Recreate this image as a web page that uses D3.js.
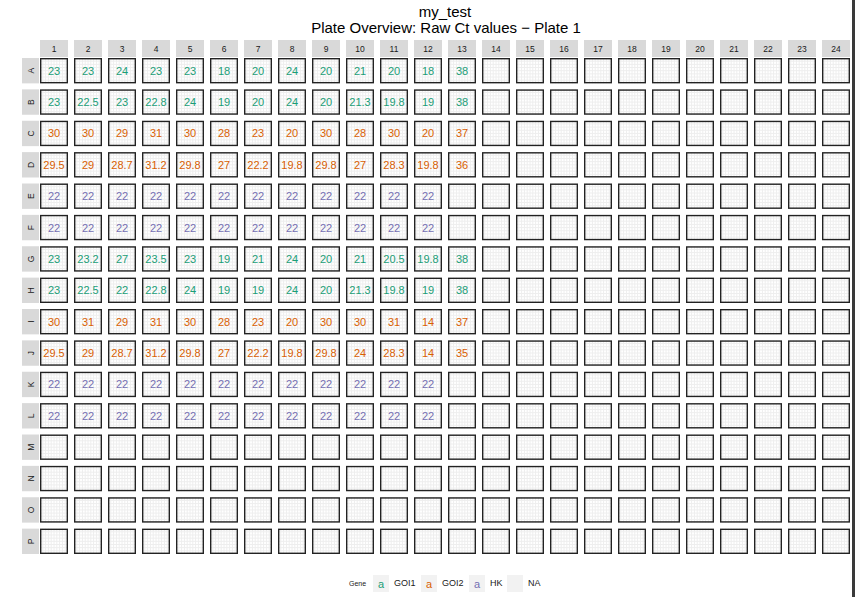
<!DOCTYPE html>
<html>
<head>
<meta charset="utf-8">
<script src="https://cdn.jsdelivr.net/npm/d3@7/dist/d3.min.js"></script>
<style>
  html, body { margin: 0; padding: 0; background: #fff; }
  svg { display: block; font-family: "Liberation Sans", Arial, sans-serif; }
</style>
</head>
<body>
<svg id="chart" width="855" height="597"></svg>
<script>
// ---- data ----
const rowLabels = ["A","B","C","D","E","F","G","H","I","J","K","L","M","N","O","P"];
const colLabels = d3.range(1, 25).map(String);
const geneByRow = ["GOI1","GOI1","GOI2","GOI2","HK","HK","GOI1","GOI1","GOI2","GOI2","HK","HK",null,null,null,null];
const ctA = [23, 23, 24, 23, 23, 18, 20, 24, 20, 21, 20, 18, 38];
const ctB = [23, 22.5, 23, 22.8, 24, 19, 20, 24, 20, 21.3, 19.8, 19, 38];
const ctC = [30, 30, 29, 31, 30, 28, 23, 20, 30, 28, 30, 20, 37];
const ctD = [29.5, 29, 28.7, 31.2, 29.8, 27, 22.2, 19.8, 29.8, 27, 28.3, 19.8, 36];
const ctE = [22, 22, 22, 22, 22, 22, 22, 22, 22, 22, 22, 22];
const ctF = [22, 22, 22, 22, 22, 22, 22, 22, 22, 22, 22, 22];
const ctG = [23, 23.2, 27, 23.5, 23, 19, 21, 24, 20, 21, 20.5, 19.8, 38];
const ctH = [23, 22.5, 22, 22.8, 24, 19, 19, 24, 20, 21.3, 19.8, 19, 38];
const ctI = [30, 31, 29, 31, 30, 28, 23, 20, 30, 30, 31, 14, 37];
const ctJ = [29.5, 29, 28.7, 31.2, 29.8, 27, 22.2, 19.8, 29.8, 24, 28.3, 14, 35];
const ctK = [22, 22, 22, 22, 22, 22, 22, 22, 22, 22, 22, 22];
const ctL = [22, 22, 22, 22, 22, 22, 22, 22, 22, 22, 22, 22];
const ctM = [], ctN = [], ctO = [], ctP = [];
const genes = ["GOI1", "GOI2", "HK"];
const geneColors = ["#1b9e77", "#d95f02", "#7570b3"];
const titleLines = ["my_test", "Plate Overview: Raw Ct values \u2212 Plate 1"];

const ctRows = [ctA, ctB, ctC, ctD, ctE, ctF, ctG, ctH, ctI, ctJ, ctK, ctL, ctM, ctN, ctO, ctP];

// build well table
const wells = [];
rowLabels.forEach((r, i) => {
  colLabels.forEach((c, j) => {
    const v = ctRows[i][j];
    wells.push({ row: r, col: c, ct: v === undefined ? null : v, gene: v === undefined ? null : geneByRow[i] });
  });
});

// ---- scales ----
const svg = d3.select("#chart");
const x = d3.scaleBand().domain(colLabels).range([40, 850]).paddingInner(6 / 34).paddingOuter(0);
const y = d3.scaleBand().domain(rowLabels).range([58, 554]).paddingInner(6 / 31.4).paddingOuter(0);
const color = d3.scaleOrdinal().domain(genes).range(geneColors);

// ---- titles ----
svg.append("text").attr("x", 445).attr("y", 17).attr("text-anchor", "middle")
  .attr("font-size", 15).attr("fill", "#000").text(titleLines[0]);
svg.append("text").attr("x", 446).attr("y", 33).attr("text-anchor", "middle")
  .attr("font-size", 15).attr("fill", "#000").text(titleLines[1]);

// ---- column strips ----
const colStrip = svg.append("g").selectAll("g").data(colLabels).join("g");
colStrip.append("rect").attr("x", d => x(d)).attr("y", 40).attr("width", x.bandwidth()).attr("height", 17)
  .attr("fill", "#d9d9d9");
colStrip.append("text").attr("x", d => x(d) + x.bandwidth() / 2).attr("y", 51.5)
  .attr("text-anchor", "middle").attr("font-size", 8.5).attr("fill", "#1a1a1a").text(d => d);

// ---- row strips ----
const rowStrip = svg.append("g").selectAll("g").data(rowLabels).join("g");
rowStrip.append("rect").attr("x", 22).attr("y", d => y(d)).attr("width", 17).attr("height", y.bandwidth())
  .attr("fill", "#d9d9d9");
rowStrip.append("text")
  .attr("transform", d => `translate(33.5,${y(d) + y.bandwidth() / 2}) rotate(-90)`)
  .attr("text-anchor", "middle").attr("font-size", 8.5).attr("fill", "#1a1a1a").text(d => d);

// ---- panels ----
const panel = svg.append("g").selectAll("g").data(wells).join("g")
  .attr("transform", d => `translate(${x(d.col)},${y(d.row)})`);
const bw = x.bandwidth(), bh = y.bandwidth();
panel.append("rect").attr("width", bw).attr("height", bh).attr("fill", "#fff");
const vfr = d3.range(1, 10).map(i => i / 10);
const hfr = d3.range(1, 8).map(i => i / 8);
panel.each(function() {
  const g = d3.select(this);
  g.selectAll("line.v").data(vfr).join("line").attr("class", "v")
    .attr("x1", f => f * bw).attr("x2", f => f * bw).attr("y1", 0).attr("y2", bh)
    .attr("stroke", "#eeeeee").attr("stroke-width", 1);
  g.selectAll("line.h").data(hfr).join("line").attr("class", "h")
    .attr("y1", f => f * bh).attr("y2", f => f * bh).attr("x1", 0).attr("x2", bw)
    .attr("stroke", "#eeeeee").attr("stroke-width", 1);
});
panel.append("rect").attr("x", 0.7).attr("y", 0.7).attr("width", bw - 1.4).attr("height", bh - 1.4)
  .attr("fill", "none").attr("stroke", "#222").attr("stroke-width", 1.4);
panel.filter(d => d.ct !== null).append("text")
  .attr("x", bw / 2).attr("y", bh / 2 + 4).attr("text-anchor", "middle")
  .attr("font-size", 11).attr("fill", d => color(d.gene)).text(d => d.ct);

// ---- legend ----
const lg = svg.append("g");
lg.append("text").attr("x", 349).attr("y", 585.5).attr("font-size", 7).attr("fill", "#1a1a1a").text("Gene");
const legendItems = genes.map((g, i) => ({ label: g, color: geneColors[i] })).concat([{ label: "NA", color: null }]);
const keyX = [373, 421, 469, 507];
const item = lg.selectAll("g.item").data(legendItems).join("g").attr("class", "item")
  .attr("transform", (d, i) => `translate(${keyX[i]},575)`);
item.append("rect").attr("width", 16).attr("height", 17).attr("fill", "#f2f2f2");
item.filter(d => d.color).append("text").attr("x", 8).attr("y", 12.5).attr("text-anchor", "middle")
  .attr("font-size", 11).attr("fill", d => d.color).text("a");
item.append("text").attr("x", 21).attr("y", 11).attr("font-size", 9).attr("fill", "#1a1a1a").text(d => d.label);

// right edge dark stripe
svg.append("rect").attr("x", 852).attr("y", 0).attr("width", 3).attr("height", 597).attr("fill", "#3a3a3a");
</script>
</body>
</html>
